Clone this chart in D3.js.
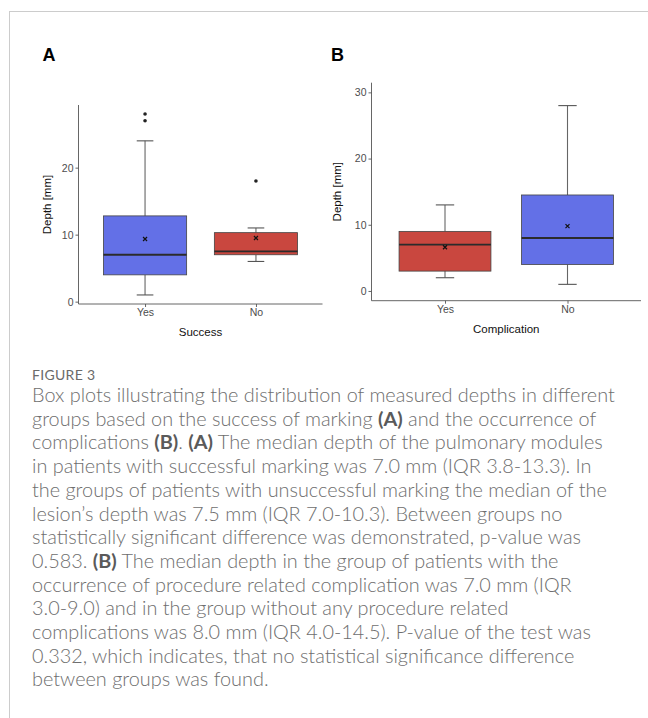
<!DOCTYPE html>
<html>
<head>
<meta charset="utf-8">
<script src="https://cdn.jsdelivr.net/npm/d3@7"></script>
<style>
  body { margin: 0; background: #fff; }
  svg { display: block; }
</style>
</head>
<body>
<svg id="fig" width="648" height="718"></svg>
<script>
// panel A - success of marking
const categoriesA = ["Yes", "No"];
const lowA = [1, 6];
const q1A = [4, 7];
const medA = [7, 7.5];
const q3A = [12.8, 10.3];
const highA = [24, 11];
const meanA = [9.35, 9.5];
const outliersA = [[27, 28], [18]];
const colorsA = ["#6370e7", "#c9473f"];
const ticksA = [0, 10, 20];

// panel B - complication
const categoriesB = ["Yes", "No"];
const lowB = [2, 1];
const q1B = [3, 4];
const medB = [7, 8];
const q3B = [9, 14.5];
const highB = [13, 28];
const meanB = [6.6, 9.8];
const outliersB = [[], []];
const colorsB = ["#c9473f", "#6370e7"];
const ticksB = [0, 10, 20, 30];

const captionLines = [
  "Box plots illustrating the distribution of measured depths in different",
  "groups based on the success of marking |(A)| and the occurrence of",
  "complications |(B)|. |(A)| The median depth of the pulmonary modules",
  "in patients with successful marking was 7.0 mm (IQR 3.8-13.3). In",
  "the groups of patients with unsuccessful marking the median of the",
  "lesion\u2019s depth was 7.5 mm (IQR 7.0-10.3). Between groups no",
  "statistically significant difference was demonstrated, p-value was",
  "0.583. |(B)| The median depth in the group of patients with the",
  "occurrence of procedure related complication was 7.0 mm (IQR",
  "3.0-9.0) and in the group without any procedure related",
  "complications was 8.0 mm (IQR 4.0-14.5). P-value of the test was",
  "0.332, which indicates, that no statistical significance difference",
  "between groups was found."
];

var svg = d3.select("#fig");
var chartFont = "Liberation Sans, Arial, sans-serif";

// page frame
svg.append("line").attr("x1", 9).attr("x2", 648).attr("y1", 11.5).attr("y2", 11.5)
  .attr("stroke", "#cccccc").attr("stroke-width", 1);
svg.append("line").attr("x1", 9.5).attr("x2", 9.5).attr("y1", 11).attr("y2", 718)
  .attr("stroke", "#cccccc").attr("stroke-width", 1);

function drawPanel(p) {
  var g = svg.append("g").attr("font-family", chartFont);

  var pad = (p.x1 - p.x0) * 0.6 / 2.2;
  var x = d3.scalePoint().domain(p.cats).range([p.x0 + pad, p.x1 - pad]);
  var step = x.step();
  var y = d3.scaleLinear().domain(p.domain).range([p.y0, p.y1]);

  // axes
  var yAxis = d3.axisLeft(y).tickValues(p.ticks).tickSize(3).tickPadding(2).tickFormat(d3.format("d"));
  var ya = g.append("g").attr("transform", "translate(" + p.x0 + ",0)").call(yAxis);
  ya.select(".domain").attr("d", "M0," + p.y0 + "V" + p.y1);
  var xAxis = d3.axisBottom(x).tickSize(3).tickPadding(2);
  var xa = g.append("g").attr("transform", "translate(0," + p.y0 + ")").call(xAxis);
  xa.select(".domain").attr("d", "M" + p.x0 + ",0H" + p.x1);
  [ya, xa].forEach(a => {
    a.attr("font-family", chartFont).attr("font-size", 10.5);
    a.selectAll(".domain, .tick line").attr("stroke", "#555").attr("stroke-width", 0.9);
    a.selectAll("text").attr("fill", "#4d4d4d");
  });

  var boxes = g.selectAll("g.box").data(p.cats).enter().append("g").attr("class", "box");
  var hw = step * 0.75 / 2, cw = step * 0.15 / 2;

  // whiskers
  boxes.append("line").attr("x1", d => x(d)).attr("x2", d => x(d))
    .attr("y1", (d, i) => y(p.high[i])).attr("y2", (d, i) => y(p.q3[i]))
    .attr("stroke", "#666").attr("stroke-width", 1.1);
  boxes.append("line").attr("x1", d => x(d)).attr("x2", d => x(d))
    .attr("y1", (d, i) => y(p.q1[i])).attr("y2", (d, i) => y(p.low[i]))
    .attr("stroke", "#666").attr("stroke-width", 1.1);
  boxes.append("line").attr("x1", d => x(d) - cw).attr("x2", d => x(d) + cw)
    .attr("y1", (d, i) => y(p.high[i])).attr("y2", (d, i) => y(p.high[i]))
    .attr("stroke", "#555").attr("stroke-width", 1.1);
  boxes.append("line").attr("x1", d => x(d) - cw).attr("x2", d => x(d) + cw)
    .attr("y1", (d, i) => y(p.low[i])).attr("y2", (d, i) => y(p.low[i]))
    .attr("stroke", "#555").attr("stroke-width", 1.1);

  // box
  boxes.append("rect").attr("x", d => x(d) - hw).attr("width", hw * 2)
    .attr("y", (d, i) => y(p.q3[i])).attr("height", (d, i) => y(p.q1[i]) - y(p.q3[i]))
    .attr("fill", (d, i) => p.colors[i]).attr("stroke", "#444").attr("stroke-width", 0.8);
  boxes.append("line").attr("x1", d => x(d) - hw).attr("x2", d => x(d) + hw)
    .attr("y1", (d, i) => y(p.med[i])).attr("y2", (d, i) => y(p.med[i]))
    .attr("stroke", "#2b2b2b").attr("stroke-width", 1.8);

  // mean as small x
  boxes.append("path")
    .attr("d", (d, i) => { var cx = x(d), cy = y(p.mean[i]), s = 2;
      return "M" + (cx - s) + "," + (cy - s) + "L" + (cx + s) + "," + (cy + s) +
             "M" + (cx - s) + "," + (cy + s) + "L" + (cx + s) + "," + (cy - s); })
    .attr("stroke", "#111").attr("stroke-width", 1.2).attr("fill", "none");

  // outliers
  boxes.each(function (d, i) {
    d3.select(this).selectAll("circle").data(p.out[i]).enter().append("circle")
      .attr("cx", x(d)).attr("cy", v => y(v)).attr("r", 1.8).attr("fill", "#222");
  });

  // titles
  g.append("text").attr("x", (p.x0 + p.x1) / 2).attr("y", p.y0 + 32)
    .attr("text-anchor", "middle").attr("font-size", 11.5).attr("fill", "#111").text(p.xTitle);
  g.append("text").attr("transform", "translate(" + p.yTitleX + "," + ((p.y0 + p.y1) / 2) + ") rotate(-90)")
    .attr("text-anchor", "middle").attr("dy", "0.35em").attr("font-size", 11.5).attr("fill", "#111").text("Depth [mm]");
  g.append("text").attr("x", p.labelX).attr("y", p.labelY).attr("font-size", 18)
    .attr("font-weight", "bold").attr("fill", "#000").text(p.label);
}

drawPanel({
  cats: categoriesA, low: lowA, q1: q1A, med: medA, q3: q3A, high: highA, mean: meanA, out: outliersA,
  colors: colorsA, ticks: ticksA, domain: [-0.35, 29.35],
  x0: 78.5, x1: 322.5, y0: 304, y1: 105, xTitle: "Success", yTitleX: 46.5,
  label: "A", labelX: 42.5, labelY: 61
});
drawPanel({
  cats: categoriesB, low: lowB, q1: q1B, med: medB, q3: q3B, high: highB, mean: meanB, out: outliersB,
  colors: colorsB, ticks: ticksB, domain: [-1.47, 31.46],
  x0: 371.5, x1: 641, y0: 300.7, y1: 82.7, xTitle: "Complication", yTitleX: 337,
  label: "B", labelX: 331, labelY: 61
});

// caption
var cap = svg.append("g").attr("font-family", "Lato, 'Open Sans', sans-serif");
cap.append("text").attr("x", 32).attr("y", 380).attr("font-size", 14).attr("fill", "#6a6a6a")
  .attr("letter-spacing", 0.3).text("FIGURE 3");

var fs = 17.5;
var lines = cap.selectAll("text.cl").data(captionLines).enter().append("text").attr("class", "cl")
  .attr("x", 32).attr("y", (d, i) => 402 + i * 23.7)
  .attr("font-size", fs).attr("font-weight", 300).attr("fill", "#6e6e6e");
lines.each(function (d) {
  var t = d3.select(this);
  d.split("|").forEach((part, k) => {
    t.append("tspan").text(part)
      .attr("font-weight", k % 2 ? "bold" : null)
      .attr("fill", k % 2 ? "#5a5a5a" : null);
  });
});
// fit first line width to the reference (ends near x=615)
var w0 = lines.node().getComputedTextLength();
lines.attr("font-size", fs * 583 / w0);
</script>
</body>
</html>
